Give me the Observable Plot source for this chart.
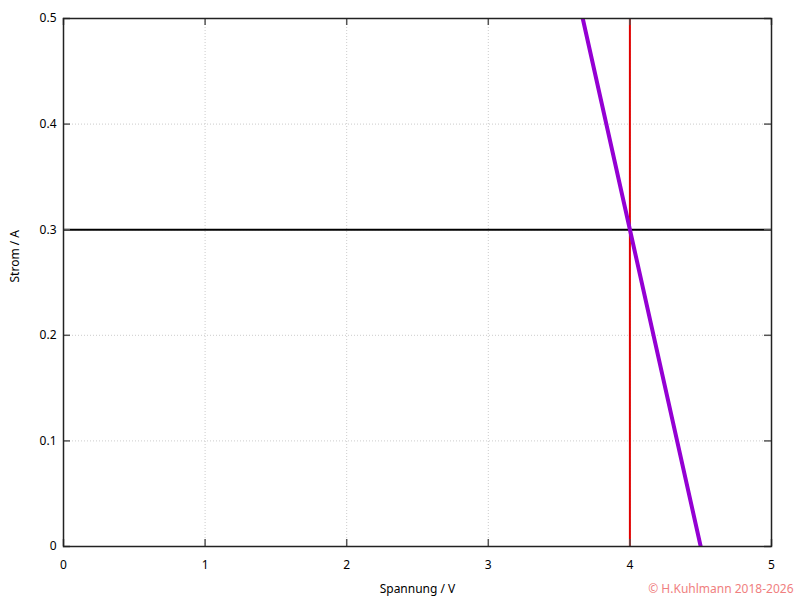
<!DOCTYPE html>
<html><head><meta charset="utf-8">
<script src="https://cdn.jsdelivr.net/npm/d3@7"></script>
<script src="https://cdn.jsdelivr.net/npm/@observablehq/plot@0.6"></script>
<style>
body{margin:0;background:#fff;}
#chart{position:relative;width:800px;height:600px;}
svg{overflow:visible;}
</style>
</head><body><div id="chart"></div>
<script>
const xTicks = [0, 1, 2, 3, 4, 5];
const yTicks = [0, 0.1, 0.2, 0.3, 0.4, 0.5];
const xGrid = [1, 2, 3, 4];
const yGrid = [0.1, 0.2, 0.3, 0.4];
const lineU = [3.667, 4.5];
const lineI = [0.5, 0];
const markerU = [4];
const markerI = [0.3];
const xLabel = "Spannung / V";
const yLabel = "Strom / A";
const credit = "© H.Kuhlmann 2018-2026";

const linePts = lineU.map((u, i) => ({u, i: lineI[i]}));
const font = "'Noto Sans', 'DejaVu Sans', sans-serif";
const W = 800, H = 600, ML = 63, MR = 29, MT = 18, MB = 54, TL = 7;
const fw = W - ML - MR, fh = H - MT - MB;

const chart = Plot.plot({
  width: W, height: H,
  marginLeft: ML, marginRight: MR, marginTop: MT, marginBottom: MB,
  style: {fontFamily: font, fontSize: "12px", color: "#000", background: "#fff"},
  x: {domain: [0, 5], label: null},
  y: {domain: [0, 0.5], label: null},
  marks: [
    Plot.ruleX(xGrid, {stroke: "#ccc", strokeDasharray: "1,2", strokeWidth: 1}),
    Plot.ruleY(yGrid, {stroke: "#ccc", strokeDasharray: "1,2", strokeWidth: 1}),
    Plot.ruleY(markerI, {stroke: "#000", strokeWidth: 2}),
    Plot.ruleX(markerU, {stroke: "#e00000", strokeWidth: 2}),
    Plot.line(linePts, {x: "u", y: "i", stroke: "#9400d3", strokeWidth: 4, clip: true}),
    Plot.tickX(xTicks, {x: d => d, insetTop: fh - TL, stroke: "#555", strokeWidth: 1.5}),
    Plot.tickX(xTicks, {x: d => d, insetBottom: fh - TL, stroke: "#555", strokeWidth: 1.5}),
    Plot.tickY(yTicks, {y: d => d, insetRight: fw - TL, stroke: "#555", strokeWidth: 1.5}),
    Plot.tickY(yTicks, {y: d => d, insetLeft: fw - TL, stroke: "#555", strokeWidth: 1.5}),
    Plot.frame({stroke: "#222", strokeWidth: 1.5}),
    Plot.axisX(xTicks, {tickSize: 0, tickPadding: 14, tickFormat: d => String(d), fontSize: 12, label: null}),
    Plot.axisY(yTicks, {tickSize: 0, tickPadding: 7, tickFormat: d => String(d), fontSize: 12, label: null}),
    Plot.text([xLabel], {frameAnchor: "bottom", dy: 46, text: d => d, fontSize: 12}),
    Plot.text([yLabel], {frameAnchor: "left", dx: -48, rotate: -90, text: d => d, fontSize: 12}),
    Plot.text([credit], {frameAnchor: "bottom-right", dx: 22, dy: 46, textAnchor: "end", text: d => d, fill: "#f08080", fontSize: 12})
  ]
});
document.getElementById("chart").appendChild(chart);
</script>
</body></html>
